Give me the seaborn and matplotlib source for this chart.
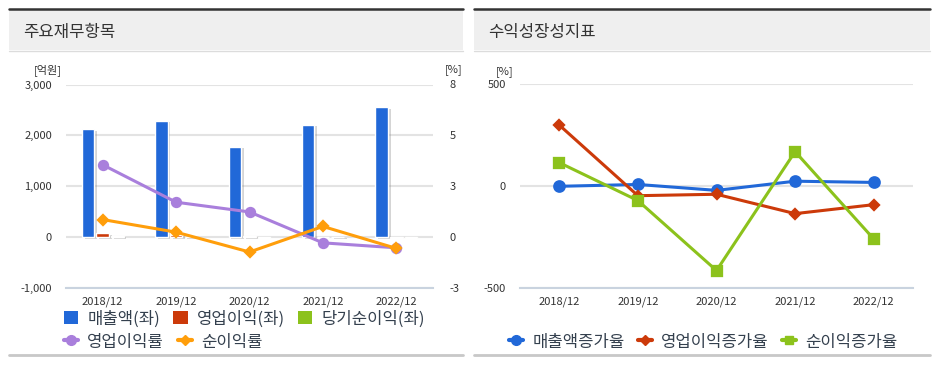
import matplotlib
matplotlib.use('Agg')
import matplotlib.pyplot as plt
import matplotlib.patheffects as pe
import pandas as pd
import seaborn as sns
from matplotlib.lines import Line2D
from matplotlib.patches import Patch, Rectangle

# data
years = ['2018/12', '2019/12', '2020/12', '2021/12', '2022/12']
sales = [2120, 2290, 1780, 2205, 2550]          # 매출액 (억원)
op_income = [75, 40, 20, -7, -14]               # 영업이익 (억원)
net_income = [20, 6, -14, 12, -15]              # 당기순이익 (억원)
op_margin = [3.79, 1.83, 1.32, -0.30, -0.56]    # 영업이익률 (%)
net_margin = [0.92, 0.26, -0.78, 0.56, -0.59]   # 순이익률 (%)

sales_growth = [0, 9, -20, 25, 19]              # 매출액증가율 (%)
op_growth = [300, -46, -39, -134, -90]          # 영업이익증가율 (%)
net_growth = [116, -70, -413, 170, -258]        # 순이익증가율 (%)

bar_names = ['매출액(좌)', '영업이익(좌)', '당기순이익(좌)']
bar_colors = ['#2168d8', '#cc3a0a', '#8cc21c']
c_purple, c_orange = '#a97fdc', '#ff9e0b'
c_blue, c_red, c_green = '#2168d8', '#cc3a0a', '#8cc21c'
txt = '#333333'
leg_txt = '#34404e'

sns.set_style('white')
plt.rcParams['font.family'] = ['Noto Sans CJK KR', 'DejaVu Sans']

W, H = 939, 366
fig = plt.figure(figsize=(W / 100, H / 100), dpi=100)


def box(x0, y0, x1, y1):
    # pixel box (from top-left) -> figure fractions
    return [x0 / W, 1 - y1 / H, (x1 - x0) / W, (y1 - y0) / H]


# --- panel chrome ---
for x0, x1, title in [(9, 463, '주요재무항목'), (474, 930, '수익성장성지표')]:
    fig.add_artist(Rectangle((x0 / W, 1 - 50 / H), (x1 - x0) / W, 41 / H,
                             transform=fig.transFigure, facecolor='#efefef', edgecolor='none'))
    fig.add_artist(Line2D([x0 / W, x1 / W], [1 - 8.5 / H] * 2, color='#333333', lw=1.8))
    fig.add_artist(Line2D([x0 / W, x1 / W], [1 - 50.5 / H] * 2, color='#dcdcdc', lw=1))
    fig.add_artist(Line2D([x0 / W, x1 / W], [1 - 355 / H] * 2, color='#c8c8c8', lw=2))
    fig.text((x0 + 14) / W, 1 - 32 / H, title, fontsize=12, color=txt, va='center')


def style_axes(ax):
    ax.set_xlim(-0.5, len(years) - 0.5)
    ax.yaxis.grid(True, color='#e3e3e3', lw=1.5)
    ax.set_axisbelow(True)
    for s in ['top', 'left', 'right']:
        ax.spines[s].set_visible(False)
    ax.spines['bottom'].set_color('#c9d3df')
    ax.spines['bottom'].set_linewidth(1.5)
    ax.set_xticks([i - 0.5 for i in range(len(years) + 1)], minor=True)
    ax.tick_params(axis='x', which='minor', length=5, width=1.5, color='#c9d3df')
    ax.tick_params(axis='x', which='major', length=0, pad=6, labelsize=8, labelcolor=txt)
    ax.tick_params(axis='y', length=0, pad=10, labelsize=8, labelcolor=txt)
    ax.set_xlabel('')
    ax.set_ylabel('')


# --- Chart 1: 주요재무항목 ---
ax = fig.add_axes(box(66, 84.5, 433, 288))
df_bar = pd.DataFrame({
    'year': years * 3,
    'value': sales + op_income + net_income,
    'item': [bar_names[0]] * 5 + [bar_names[1]] * 5 + [bar_names[2]] * 5,
})
sns.barplot(data=df_bar, x='year', y='value', hue='item', hue_order=bar_names,
            palette=bar_colors, saturation=1, width=0.6, gap=0.15,
            errorbar=None, legend=False, ax=ax)
for p in ax.patches:
    p.set_path_effects([pe.SimplePatchShadow(offset=(2, -1), shadow_rgbFace='#777777', alpha=0.3),
                        pe.Normal()])
ax.set_ylim(-1000, 3000)
ax.set_yticks([-1000, 0, 1000, 2000, 3000])
ax.set_yticklabels(['-1,000', '0', '1,000', '2,000', '3,000'])
style_axes(ax)

ax2 = ax.twinx()
sns.pointplot(x=years, y=op_margin, color=c_purple, markers='o', markersize=6.5,
              linewidth=2.2, errorbar=None, ax=ax2)
sns.pointplot(x=years, y=net_margin, color=c_orange, markers='D', markersize=5,
              linewidth=2.2, errorbar=None, ax=ax2)
ax2.set_ylim(-8 / 3, 8)
ax2.set_yticks([-8 / 3, 0, 8 / 3, 16 / 3, 8])
ax2.set_yticklabels(['-3', '0', '3', '5', '8'])
ax2.set_xlim(-0.5, len(years) - 0.5)
for s in ax2.spines.values():
    s.set_visible(False)
ax2.tick_params(axis='y', length=0, pad=12, labelsize=8, labelcolor=txt)
ax2.set_ylabel('')

fig.text(48 / W, 1 - 70 / H, '[억원]', ha='center', va='center', fontsize=8, color=txt)
fig.text(454 / W, 1 - 70 / H, '[%]', ha='center', va='center', fontsize=8, color=txt)

leg_kw = dict(frameon=False, fontsize=12, handlelength=0.85, handleheight=0.85,
              handletextpad=0.55, columnspacing=0.8, borderpad=0, borderaxespad=0,
              labelcolor=leg_txt)
fig.legend(handles=[Patch(facecolor=c, edgecolor='none') for c in bar_colors],
           labels=bar_names, loc='center left', bbox_to_anchor=(64 / W, 1 - 319 / H),
           ncol=3, **leg_kw)
fig.legend(handles=[Line2D([], [], color=c_purple, lw=3, marker='o', markersize=7),
                    Line2D([], [], color=c_orange, lw=3, marker='D', markersize=5)],
           labels=['영업이익률', '순이익률'], loc='center left',
           bbox_to_anchor=(64 / W, 1 - 342 / H), ncol=2, **leg_kw)

# --- Chart 2: 수익성장성지표 ---
ax3 = fig.add_axes(box(520, 84.3, 913, 288.3))
sns.pointplot(x=years, y=sales_growth, color=c_blue, markers='o', markersize=7.5,
              linewidth=2.2, errorbar=None, ax=ax3)
sns.pointplot(x=years, y=op_growth, color=c_red, markers='D', markersize=5.5,
              linewidth=2.2, errorbar=None, ax=ax3)
sns.pointplot(x=years, y=net_growth, color=c_green, markers='s', markersize=7.5,
              linewidth=2.2, errorbar=None, ax=ax3)
ax3.set_ylim(-500, 500)
ax3.set_yticks([-500, 0, 500])
ax3.set_yticklabels(['-500', '0', '500'])
style_axes(ax3)

fig.text(505 / W, 1 - 72 / H, '[%]', ha='center', va='center', fontsize=8, color=txt)

fig.legend(handles=[Line2D([], [], color=c_blue, lw=3, marker='o', markersize=7),
                    Line2D([], [], color=c_red, lw=3, marker='D', markersize=5),
                    Line2D([], [], color=c_green, lw=3, marker='s', markersize=6)],
           labels=['매출액증가율', '영업이익증가율', '순이익증가율'], loc='center left',
           bbox_to_anchor=(509 / W, 1 - 342 / H), ncol=3, **leg_kw)

plt.savefig('out.png', dpi=100)
plt.close()
